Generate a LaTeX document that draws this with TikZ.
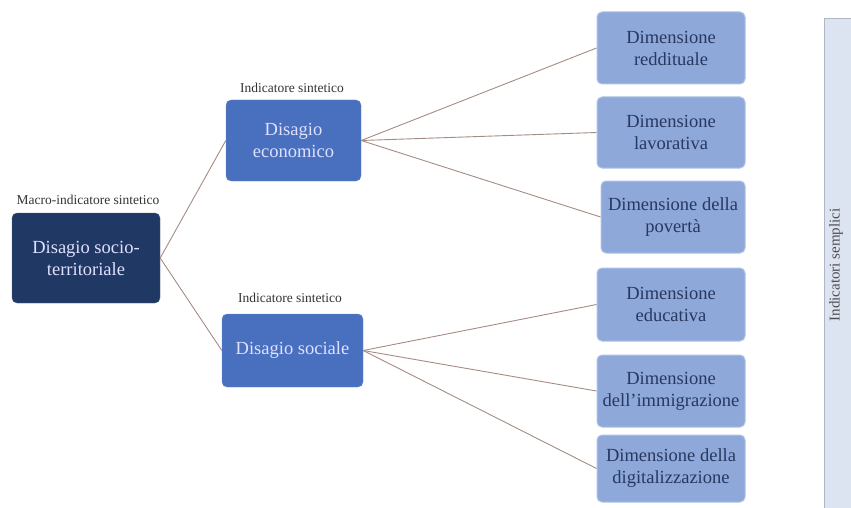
\documentclass[tikz,border=0pt]{standalone}
\usepackage{fontspec}
\setmainfont{Liberation Serif}
\begin{document}
\begin{tikzpicture}[x=1pt,y=-1pt,
  box/.style={draw, rounded corners=5pt, align=center, inner sep=0pt},
  rootbox/.style={box, fill=root, draw=root!80!white, text=white!88!blue, font=\fontsize{18.5}{22}\selectfont},
  midbox/.style={box, fill=mid, draw=mid!80!white, text=white!88!blue, font=\fontsize{18.5}{22}\selectfont},
  leafbox/.style={box, fill=leaf, draw=leaf!70!white, text=leaftext, font=\fontsize{18.5}{22}\selectfont, line width=1pt},
  lab/.style={font=\fontsize{13.5}{15}\selectfont, text=black!80},
  conn/.style={draw=connc, line width=0.9pt}
]
\definecolor{root}{RGB}{32,56,100}
\definecolor{mid}{RGB}{72,112,190}
\definecolor{leaf}{RGB}{142,168,218}
\definecolor{leaftext}{RGB}{40,56,95}
\definecolor{connc}{RGB}{165,140,130}
\definecolor{barfill}{RGB}{220,228,242}
\definecolor{bardraw}{RGB}{175,182,196}
\useasboundingbox (0,0) rectangle (851,508);

\node[rootbox, minimum width=148, minimum height=90] (root) at (86,258) {Disagio socio-\\territoriale};
\node[lab] (lroot) at (88,200) {Macro-indicatore sintetico};

\node[midbox, minimum width=135, minimum height=81] (eco) at (293.5,140.5) {Disagio\\economico};
\node[lab] (leco) at (292,88) {Indicatore sintetico};

\node[midbox, minimum width=141, minimum height=73] (soc) at (292.5,350.5) {Disagio sociale};
\node[lab] (lsoc) at (290,298) {Indicatore sintetico};

\node[leafbox, minimum width=148, minimum height=72] (l1) at (671,48) {Dimensione\\reddituale};
\node[leafbox, minimum width=148, minimum height=71] (l2) at (671,132.5) {Dimensione\\lavorativa};
\node[leafbox, minimum width=144, minimum height=72] (l3) at (673,217) {Dimensione della\\povertà};
\node[leafbox, minimum width=148, minimum height=73] (l4) at (671,304.5) {Dimensione\\educativa};
\node[leafbox, minimum width=148, minimum height=72] (l5) at (671,391) {Dimensione\\dell’immigrazione};
\node[leafbox, minimum width=148, minimum height=67] (l6) at (671,468.5) {Dimensione della\\digitalizzazione};

\draw[conn] (root.east) -- (eco.west);
\draw[conn] (root.east) -- (soc.west);
\foreach \l in {l1,l2,l3} \draw[conn] (eco.east) -- (\l.west);
\foreach \l in {l4,l5,l6} \draw[conn] (soc.east) -- (\l.west);

\node[draw=bardraw, fill=barfill, line width=1pt, minimum width=28, minimum height=492, inner sep=0pt, anchor=north west] (bar) at (823.5,18) {};
\node[rotate=90, font=\fontsize{15}{17}\selectfont, text=black!70] (bartext) at (836,265) {Indicatori semplici};
\end{tikzpicture}
\end{document}
